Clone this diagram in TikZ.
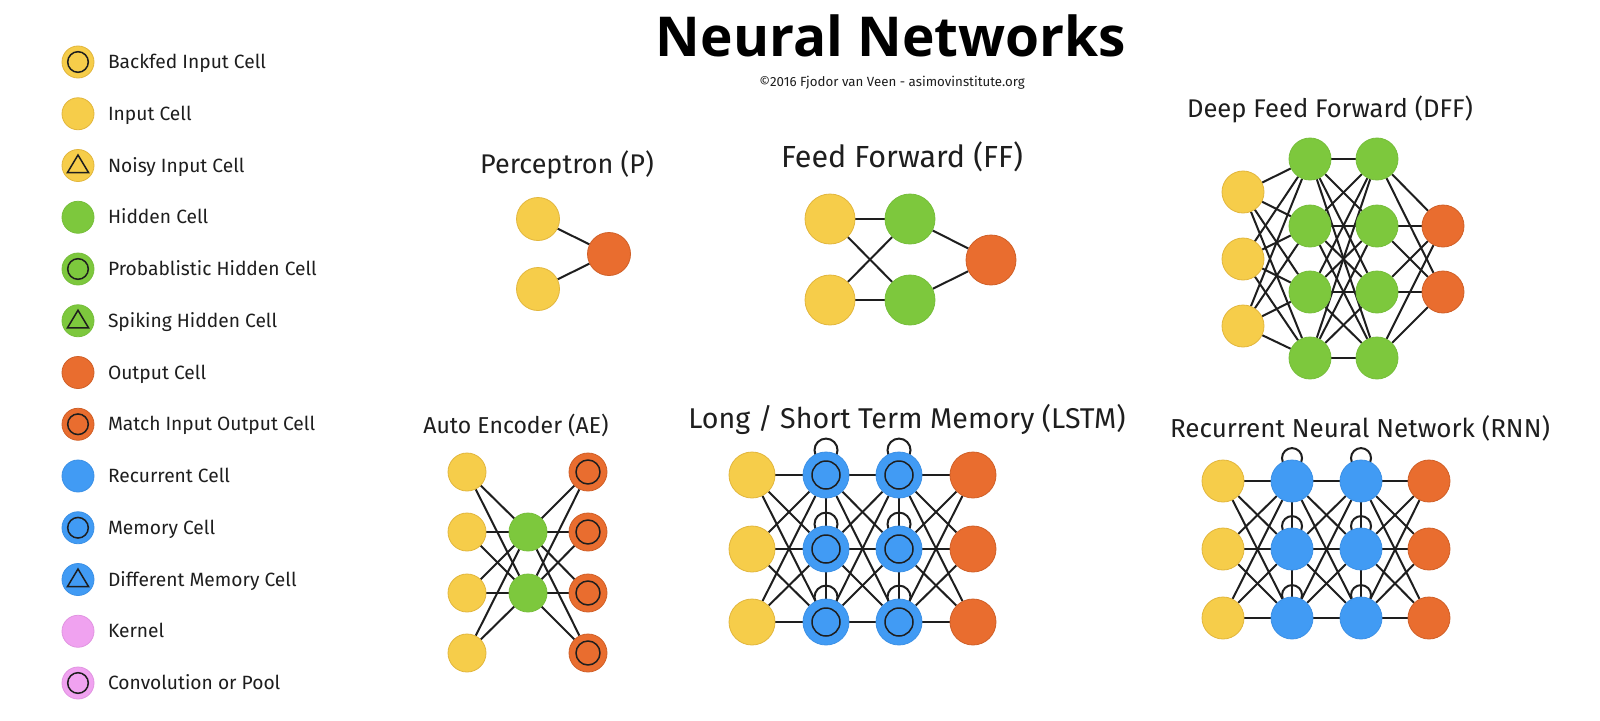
\documentclass[tikz,border=0pt]{standalone}
\usepackage{fontspec}
\setmainfont{Fira Sans}
\newfontfamily\headfont{Open Sans}
\usetikzlibrary{backgrounds}
\definecolor{nnYellow}{HTML}{F6CD4A}
\definecolor{nnYellowRim}{HTML}{E2B63C}
\definecolor{nnGreen}{HTML}{7DC83D}
\definecolor{nnGreenRim}{HTML}{76BE3A}
\definecolor{nnOrange}{HTML}{E96D2F}
\definecolor{nnOrangeRim}{HTML}{D05F27}
\definecolor{nnBlue}{HTML}{419BF4}
\definecolor{nnBlueRim}{HTML}{3B90E6}
\definecolor{nnPink}{HTML}{F0A2F0}
\definecolor{nnPinkRim}{HTML}{E194E1}
\definecolor{nnInk}{HTML}{1E1E1E}

\begin{document}
\begin{tikzpicture}[x=1pt,y=-1pt,line cap=round,line join=round]
\useasboundingbox (0,0) rectangle (1600,720);
\tikzset{cell/.style={circle,inner sep=0pt,minimum size=#1,line width=0.8pt},cell/.default=44pt,
  ring/.style={path picture={\draw[line width=1.5pt,draw=nnInk] (path picture bounding box.center) circle (#1);}},
  spike/.style={path picture={\draw[line width=1.5pt,draw=nnInk,line join=miter,shift={(path picture bounding box.center)}] (0,-10.5) -- (-10.5,7) -- (10.5,7) -- cycle;}},
  incell/.style={fill=nnYellow,draw=nnYellowRim},backfed/.style={incell,ring=10.3},noisy/.style={incell,spike},
  hidcell/.style={fill=nnGreen,draw=nnGreenRim},probhid/.style={hidcell,ring=10.3},spiking/.style={hidcell,spike},
  outcell/.style={fill=nnOrange,draw=nnOrangeRim},matchout/.style={outcell,ring=10.3},
  reccell/.style={fill=nnBlue,draw=nnBlueRim},memcell/.style={reccell,ring=10.3},diffmem/.style={reccell,spike},
  kernel/.style={fill=nnPink,draw=nnPinkRim},convpool/.style={kernel,ring=10.3},
  link/.style={draw=nnInk,line width=2pt},
  keytext/.style={anchor=base west,text=nnInk,font=\fontsize{19.2}{23}\selectfont},
  nettitle/.style={anchor=base,text=nnInk,font=\fontsize{#1}{#1}\selectfont}}
% heading
\node[anchor=base,text=black,font=\headfont\bfseries\fontsize{55}{60}\selectfont] (title) at (891,56) {Neural Networks};
\node[anchor=base,text=nnInk,font=\fontsize{13.3}{15}\selectfont] (credit) at (892,86.5) {©2016 Fjodor van Veen - asimovinstitute.org};
% legend
\foreach \k/\t [count=\i from 0] in {backfed/Backfed Input Cell,incell/Input Cell,noisy/Noisy Input Cell,hidcell/Hidden Cell,probhid/Probablistic Hidden Cell,spiking/Spiking Hidden Cell,outcell/Output Cell,matchout/Match Input Output Cell,reccell/Recurrent Cell,memcell/Memory Cell,diffmem/Different Memory Cell,kernel/Kernel,convpool/Convolution or Pool}{
  \node[cell=32pt,\k] (key\i) at (78,62+51.75*\i) {};
  \node[keytext] (keytxt\i) at (104.5,68.5+51.75*\i) {\t};}
% perceptron
\node[nettitle=27] (p-title) at (567,173) {Perceptron (P)};
\node[cell=43pt,incell] (p-i1) at (538,219) {};
\node[cell=43pt,incell] (p-i2) at (538,289) {};
\node[cell=43pt,outcell] (p-o) at (609,254) {};
% feed forward
\node[nettitle=30.5] (ff-title) at (902,167) {Feed Forward (FF)};
\foreach \y [count=\j] in {219,300}{
  \node[cell=50pt,incell] (ff-i\j) at (830,\y) {};
  \node[cell=50pt,hidcell] (ff-h\j) at (910,\y) {};}
\node[cell=50pt,outcell] (ff-o) at (991,260) {};
% deep feed forward
\node[nettitle=25.6] (d-title) at (1330,117) {Deep Feed Forward (DFF)};
\foreach \y [count=\j] in {192,259,326} \node[cell=42pt,incell] (d-i\j) at (1243,\y) {};
\foreach \y [count=\j] in {159,226,292,358}{
  \node[cell=42pt,hidcell] (d-a\j) at (1310,\y) {};
  \node[cell=42pt,hidcell] (d-b\j) at (1377,\y) {};}
\foreach \y [count=\j] in {226,292} \node[cell=42pt,outcell] (d-o\j) at (1443,\y) {};
% auto encoder
\node[nettitle=23] (ae-title) at (516,433) {Auto Encoder (AE)};
\foreach \y [count=\j] in {472,532,593,653}{
  \node[cell=38pt,incell] (ae-i\j) at (467,\y) {};
  \node[cell=38pt,matchout,ring=12] (ae-o\j) at (588,\y) {};}
\foreach \y [count=\j] in {532,593} \node[cell=38pt,hidcell] (ae-h\j) at (528,\y) {};
% lstm
\node[nettitle=28.6] (l-title) at (907,428) {Long / Short Term Memory (LSTM)};
\foreach \y [count=\j] in {475,549,622}{
  \node[cell=46pt,incell] (l-i\j) at (752,\y) {};
  \node[cell=46pt,memcell,ring=14] (l-a\j) at (826,\y) {};
  \node[cell=46pt,memcell,ring=14] (l-b\j) at (899,\y) {};
  \node[cell=46pt,outcell] (l-o\j) at (973,\y) {};}
% rnn
\node[nettitle=26] (r-title) at (1360,437) {Recurrent Neural Network (RNN)};
\foreach \y [count=\j] in {481,549,618}{
  \node[cell=42pt,incell] (r-i\j) at (1223,\y) {};
  \node[cell=42pt,reccell] (r-a\j) at (1292,\y) {};
  \node[cell=42pt,reccell] (r-b\j) at (1361,\y) {};
  \node[cell=42pt,outcell] (r-o\j) at (1429,\y) {};}
% connections
\begin{scope}[on background layer]
\fill[white] (0,0) rectangle (1600,720);
\foreach \i in {1,2} \draw[link] (p-i\i) -- (p-o);
\foreach \i in {1,2}{\draw[link] (ff-h\i) -- (ff-o); \foreach \j in {1,2} \draw[link] (ff-i\i) -- (ff-h\j);}
\foreach \j in {1,...,4}{
  \foreach \i in {1,2,3} \draw[link] (d-i\i) -- (d-a\j);
  \foreach \i in {1,...,4} \draw[link] (d-a\i) -- (d-b\j);
  \foreach \i in {1,2} \draw[link] (d-b\j) -- (d-o\i);}
\foreach \i in {1,...,4} \foreach \j in {1,2} \draw[link] (ae-i\i) -- (ae-h\j) (ae-h\j) -- (ae-o\i);
\foreach \n/\r in {l/11.5,r/10}{
  \foreach \i in {1,2,3}{\foreach \j in {1,2,3} \draw[link] (\n-i\i) -- (\n-a\j) (\n-a\i) -- (\n-b\j) (\n-b\i) -- (\n-o\j);
    \draw[link] (\n-a\i.north) ++(0,-1.5) circle (\r) (\n-b\i.north) ++(0,-1.5) circle (\r);}
  \draw[link] (\n-a1) -- (\n-a2) -- (\n-a3) (\n-b1) -- (\n-b2) -- (\n-b3);}
\end{scope}
\end{tikzpicture}
\end{document}
